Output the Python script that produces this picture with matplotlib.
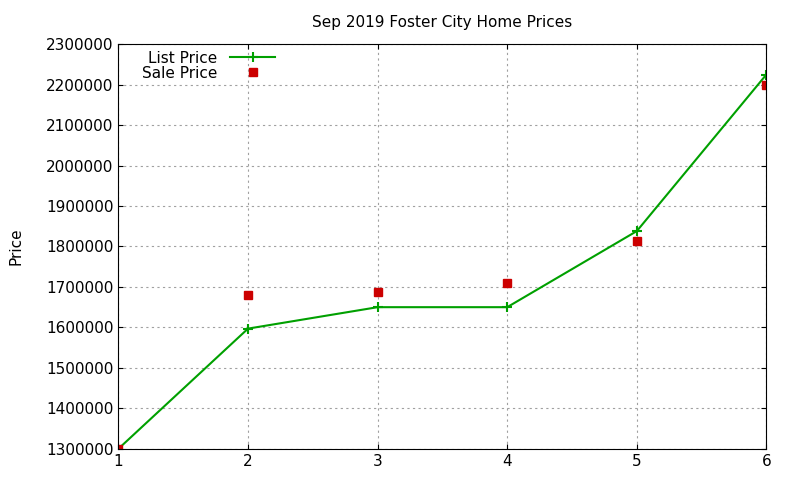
import matplotlib
matplotlib.use("Agg")
import matplotlib.pyplot as plt

x = [1, 2, 3, 4, 5, 6]
list_price = [1300000, 1597000, 1650000, 1650000, 1838000, 2225000]
sale_price = [1300000, 1680000, 1688000, 1710000, 1814000, 2200000]
yticks = list(range(1300000, 2300001, 100000))

fig = plt.figure(figsize=(8, 4.8), dpi=100)
ax = fig.add_axes([0.148, 0.065, 0.81, 0.843])
ax.plot(x, list_price, color="#00a000", marker="+", markersize=7, mew=1.5, lw=1.5, label="List Price")
ax.plot(x, sale_price, ls="none", marker="s", color="#cc0000", markersize=5.5, label="Sale Price")
ax.set_xlim(1, 6)
ax.set_ylim(1300000, 2300000)
ax.set_yticks(yticks)
ax.set_yticklabels([str(v) for v in yticks])
ax.set_xticks(x)
ax.grid(True, ls=(0, (2, 3)), color="#a0a0a0", lw=0.8)
ax.tick_params(direction="in", labelsize=11, top=True, right=True)
ax.set_ylabel("Price", fontsize=11, labelpad=16)
ax.set_title("Sep 2019 Foster City Home Prices", fontsize=11, pad=12)
leg = ax.legend(loc="upper left", bbox_to_anchor=(0.02, 1.01), frameon=False, fontsize=11,
                markerfirst=False, handlelength=3, borderpad=0.2, labelspacing=0.0)
for t in leg.get_texts():
    t.set_ha("right")
fig.savefig("out.png")
